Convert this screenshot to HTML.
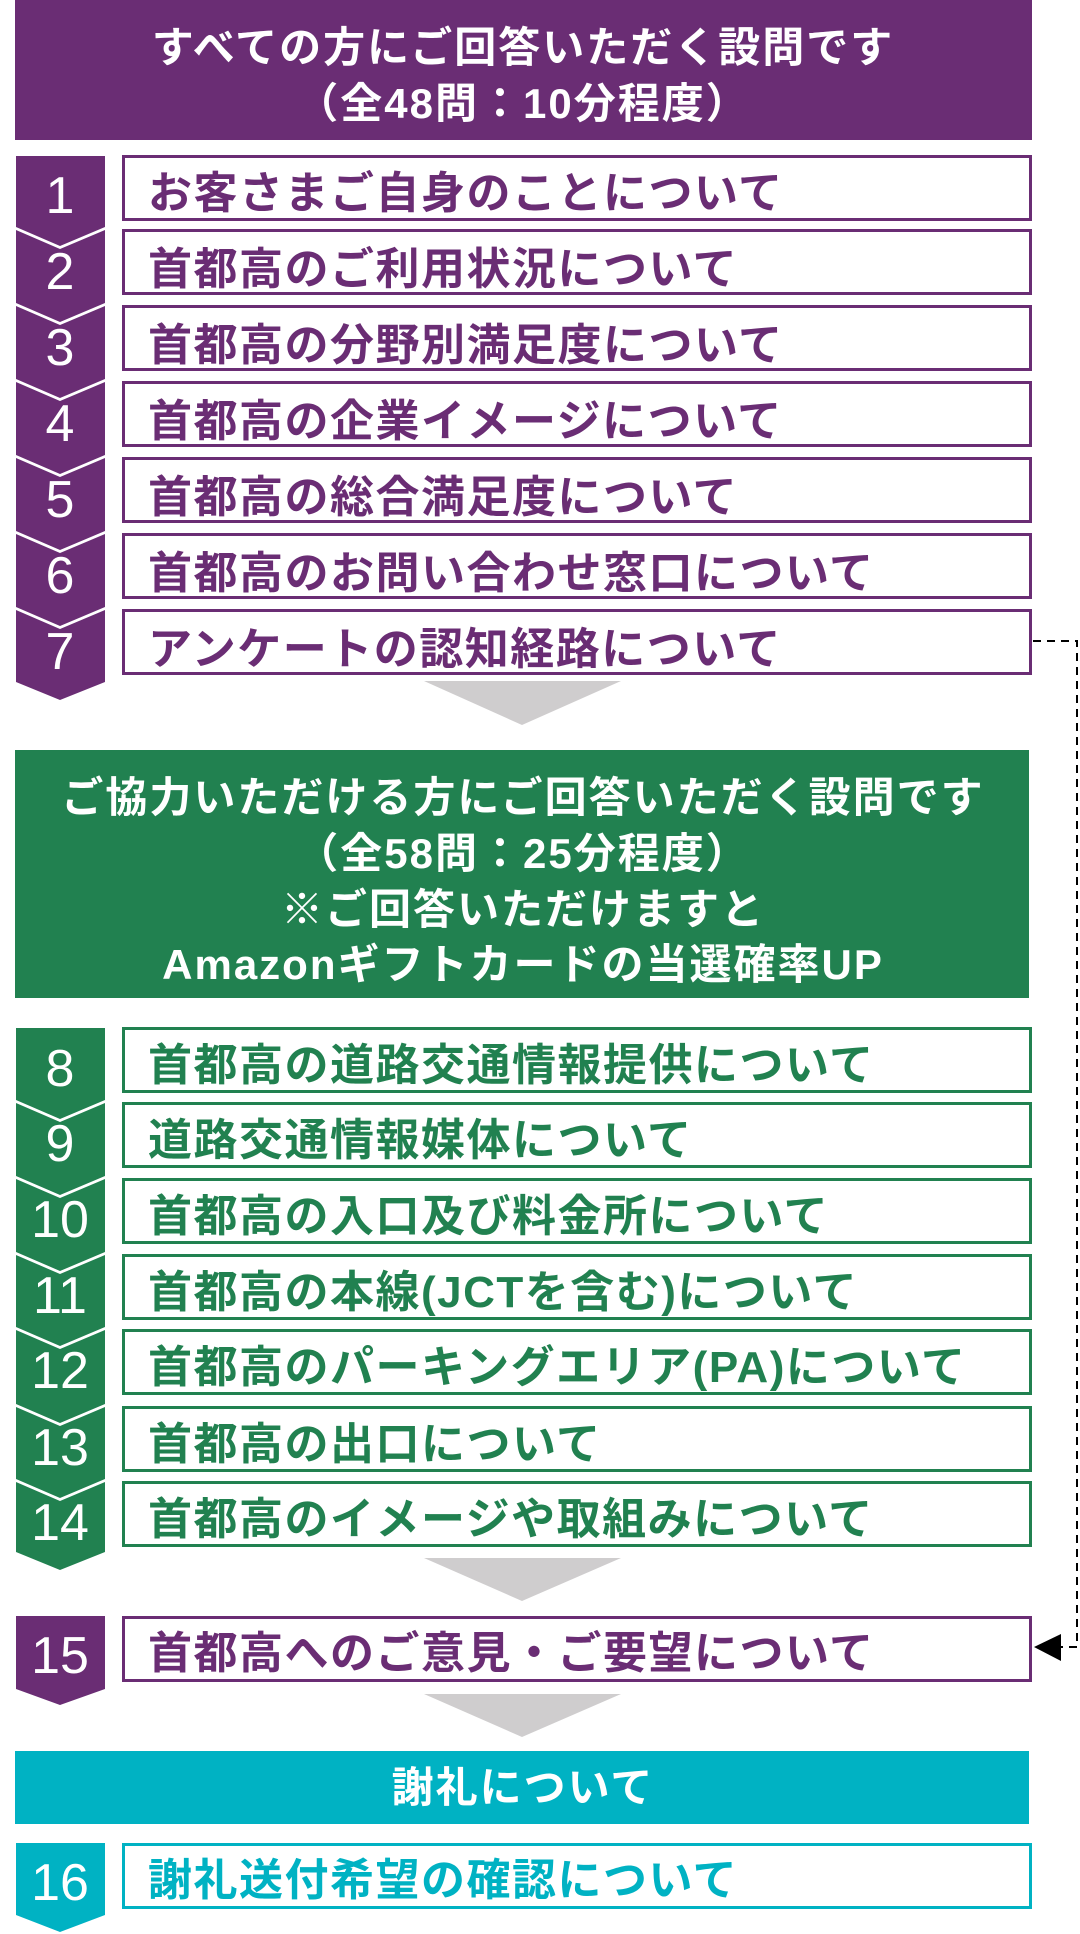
<!DOCTYPE html>
<html><head><meta charset="utf-8"><style>
html,body{margin:0;padding:0;background:#fff;}
svg{display:block;}
text{font-family:"Liberation Sans","Noto Sans CJK JP",sans-serif;}
.hd{font-size:42px;fill:#fff;letter-spacing:2px;font-weight:600;}
.row{font-size:44px;letter-spacing:1.5px;font-weight:600;}
.num{font-size:52px;fill:#fff;}
</style></head><body>
<svg width="1080" height="1934" viewBox="0 0 1080 1934" xmlns="http://www.w3.org/2000/svg">
<rect x="15" y="0" width="1017" height="140" fill="#6a2d74"/>
<text class="hd" x="523" y="62" text-anchor="middle">すべての方にご回答いただく設問です</text>
<text class="hd" x="523" y="118" text-anchor="middle">（全48問：10分程度）</text>

<g fill="#6a2d74">
<polygon points="16,156 105,156 105,227 60,246 16,227"/>
<polygon points="16,230 60,249 105,230 105,303 60,322 16,303"/>
<polygon points="16,306 60,325 105,306 105,379 60,398 16,379"/>
<polygon points="16,382 60,401 105,382 105,455 60,474 16,455"/>
<polygon points="16,458 60,477 105,458 105,531 60,550 16,531"/>
<polygon points="16,534 60,553 105,534 105,607 60,626 16,607"/>
<polygon points="16,610 60,629 105,610 105,682 60,700 16,682"/>
</g>
<g text-anchor="middle">
<text class="num" x="60" y="213">1</text>
<text class="num" x="60" y="289">2</text>
<text class="num" x="60" y="365">3</text>
<text class="num" x="60" y="441">4</text>
<text class="num" x="60" y="517">5</text>
<text class="num" x="60" y="593">6</text>
<text class="num" x="60" y="669">7</text>
</g>
<g fill="none" stroke="#6a2d74" stroke-width="3">
<rect x="123.5" y="156.5" width="907" height="63"/>
<rect x="123.5" y="230.5" width="907" height="63"/>
<rect x="123.5" y="306.5" width="907" height="63"/>
<rect x="123.5" y="382.5" width="907" height="63"/>
<rect x="123.5" y="458.5" width="907" height="63"/>
<rect x="123.5" y="534.5" width="907" height="63"/>
<rect x="123.5" y="610.5" width="907" height="63"/>
</g>
<g fill="#6a2d74">
<text class="row" x="148" y="208">お客さまご自身のことについて</text>
<text class="row" x="148" y="284">首都高のご利用状況について</text>
<text class="row" x="148" y="360">首都高の分野別満足度について</text>
<text class="row" x="148" y="436">首都高の企業イメージについて</text>
<text class="row" x="148" y="512">首都高の総合満足度について</text>
<text class="row" x="148" y="588">首都高のお問い合わせ窓口について</text>
<text class="row" x="148" y="664">アンケートの認知経路について</text>
</g>

<polygon points="424,681 621,681 522,725" fill="#cfcdce"/>

<rect x="15" y="750" width="1014" height="248" fill="#218150"/>
<text class="hd" x="523" y="812" text-anchor="middle">ご協力いただける方にご回答いただく設問です</text>
<text class="hd" x="523" y="868" text-anchor="middle">（全58問：25分程度）</text>
<text class="hd" x="523" y="924" text-anchor="middle">※ご回答いただけますと</text>
<text class="hd" x="523" y="979" text-anchor="middle">Amazonギフトカードの当選確率UP</text>

<g fill="#218150">
<polygon points="16,1028 105,1028 105,1100 60,1119 16,1100"/>
<polygon points="16,1103 60,1122 105,1103 105,1176 60,1195 16,1176"/>
<polygon points="16,1179 60,1198 105,1179 105,1252 60,1271 16,1252"/>
<polygon points="16,1255 60,1274 105,1255 105,1327 60,1346 16,1327"/>
<polygon points="16,1330 60,1349 105,1330 105,1404 60,1423 16,1404"/>
<polygon points="16,1407 60,1426 105,1407 105,1479 60,1498 16,1479"/>
<polygon points="16,1482 60,1501 105,1482 105,1552 60,1570 16,1552"/>
</g>
<g text-anchor="middle">
<text class="num" x="60" y="1086">8</text>
<text class="num" x="60" y="1161">9</text>
<text class="num" x="60" y="1237">10</text>
<text class="num" x="60" y="1313">11</text>
<text class="num" x="60" y="1388">12</text>
<text class="num" x="60" y="1465">13</text>
<text class="num" x="60" y="1540">14</text>
</g>
<g fill="none" stroke="#218150" stroke-width="3">
<rect x="123.5" y="1028.5" width="907" height="63"/>
<rect x="123.5" y="1103.5" width="907" height="63"/>
<rect x="123.5" y="1179.5" width="907" height="63"/>
<rect x="123.5" y="1255.5" width="907" height="63"/>
<rect x="123.5" y="1330.5" width="907" height="63"/>
<rect x="123.5" y="1407.5" width="907" height="63"/>
<rect x="123.5" y="1482.5" width="907" height="63"/>
</g>
<g fill="#218150">
<text class="row" x="148" y="1080">首都高の道路交通情報提供について</text>
<text class="row" x="148" y="1155">道路交通情報媒体について</text>
<text class="row" x="148" y="1231">首都高の入口及び料金所について</text>
<text class="row" x="148" y="1307">首都高の本線(JCTを含む)について</text>
<text class="row" x="148" y="1382">首都高のパーキングエリア(PA)について</text>
<text class="row" x="148" y="1459">首都高の出口について</text>
<text class="row" x="148" y="1534">首都高のイメージや取組みについて</text>
</g>

<polygon points="424,1558 621,1558 522,1601" fill="#cfcdce"/>

<polygon points="16,1616 105,1616 105,1689 60,1705 16,1689" fill="#6a2d74"/>
<text class="num" x="60" y="1673" text-anchor="middle">15</text>
<rect x="123.5" y="1617.5" width="907" height="63" fill="none" stroke="#6a2d74" stroke-width="3"/>
<text class="row" x="148" y="1668" fill="#6a2d74">首都高へのご意見・ご要望について</text>

<polygon points="424,1694 621,1694 522,1737" fill="#cfcdce"/>

<rect x="15" y="1751" width="1014" height="73" fill="#00b2c3"/>
<text class="hd" x="523" y="1802" text-anchor="middle">謝礼について</text>

<polygon points="16,1843 105,1843 105,1915 60,1932 16,1915" fill="#00b2c3"/>
<text class="num" x="60" y="1900" text-anchor="middle">16</text>
<rect x="123.5" y="1844.5" width="907" height="63" fill="none" stroke="#00b2c3" stroke-width="3"/>
<text class="row" x="148" y="1895" fill="#00b2c3">謝礼送付希望の確認について</text>

<polyline points="1033,641 1077,641 1077,1647 1061,1647" fill="none" stroke="#000" stroke-width="2" stroke-dasharray="8,6"/>
<polygon points="1034,1647 1061,1634 1061,1661" fill="#000"/>
</svg>
</body></html>
